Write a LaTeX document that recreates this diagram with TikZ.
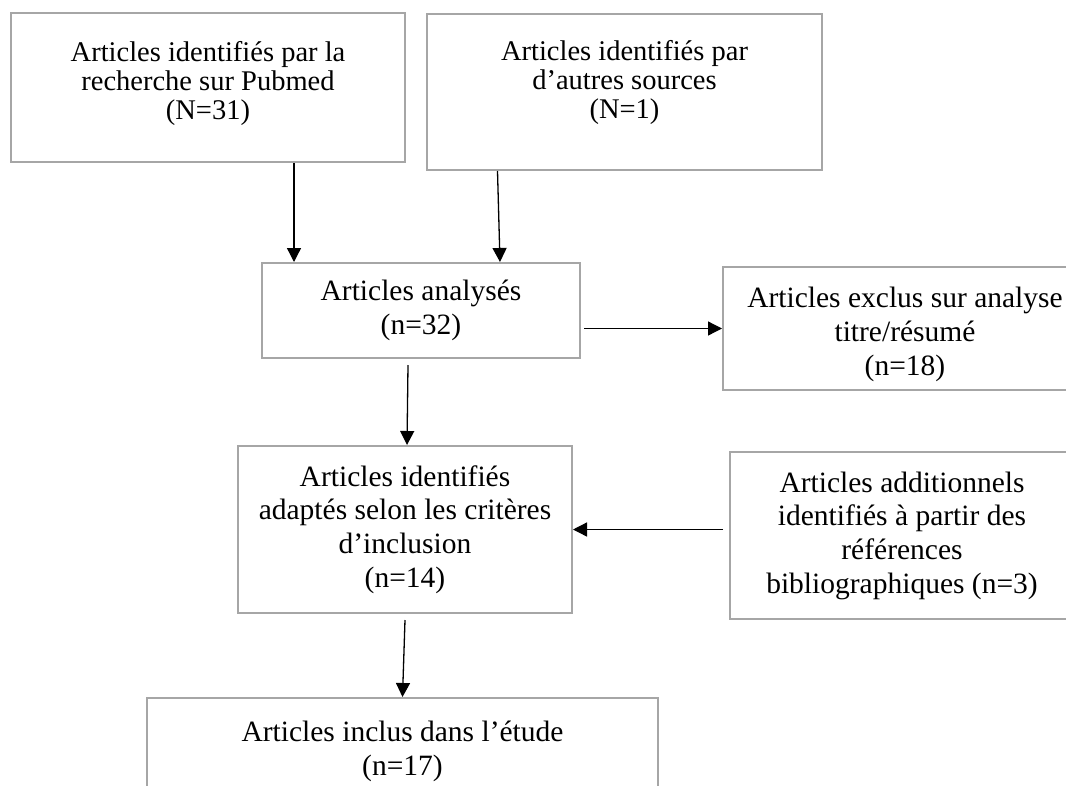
\documentclass[tikz,border=0pt]{standalone}
\usepackage{fontspec}
\setmainfont{Liberation Serif}
\usepackage{xcolor}
\usepackage{tikz}
\usetikzlibrary{arrows.meta,calc}
\definecolor{boxline}{HTML}{A6A6A6}
\definecolor{ink}{HTML}{000000}
\tikzset{
  box/.style={draw=boxline, line width=2pt, fill=white, inner sep=0pt,
    align=center, text=ink, font=\fontsize{29.5}{33.7}\selectfont},
  topbox/.style={box, font=\fontsize{28.5}{29}\selectfont},
  arr/.style={-{Triangle[length=14pt,width=14pt]}, line width=1.3pt, draw=ink}
}

\begin{document}
\begin{tikzpicture}[x=1pt,y=-1pt]
  \useasboundingbox (0,0) rectangle (1066,785);
  \clip (0,0) rectangle (1066,785);

  \node[topbox, text depth=14pt, minimum width=394pt, minimum height=149pt] (pubmed) at (208,87.5)
    {Articles identifiés par la\\recherche sur Pubmed\\(N=31)};
  \node[topbox, text depth=26pt, minimum width=395pt, minimum height=156pt] (autres) at (624.5,92)
    {Articles identifiés par\\d’autres sources\\(N=1)};
  \node[box, minimum width=318pt, minimum height=95pt] (analyses) at (421,310.5)
    {Articles analysés\\(n=32)};
  \node[box, text height=99.5pt, minimum width=364pt, minimum height=123pt] (exclus) at (905,328.5)
    {Articles exclus sur analyse\\titre/résumé\\(n=18)};
  \node[box, minimum width=334pt, minimum height=167pt] (adaptes) at (405,529.5)
    {Articles identifiés\\adaptés selon les critères\\d’inclusion\\(n=14)};
  \node[box, minimum width=344pt, minimum height=167pt] (addit) at (902,535.5)
    {Articles additionnels\\identifiés à partir des\\références\\bibliographiques (n=3)};
  \node[box, text depth=18pt, minimum width=511pt, minimum height=118pt] (inclus) at (402.5,757)
    {Articles inclus dans l’étude\\(n=17)};

  \draw[arr] ([xshift=86pt]pubmed.south) -- ([xshift=86pt]pubmed.south |- analyses.north);
  \draw[arr] ([xshift=-127pt]autres.south) -- ([xshift=79pt]analyses.north);
  \draw[arr] ([xshift=3pt]analyses.east |- exclus.west) -- (exclus.west);
  \draw[arr] ([xshift=-13pt,yshift=-6pt]analyses.south) -- ([xshift=2pt]adaptes.north);
  \draw[arr] ([xshift=-6pt]addit.west |- adaptes.east) -- (adaptes.east);
  \draw[arr] ([yshift=-6pt]adaptes.south) -- (inclus.north);
\end{tikzpicture}
\end{document}
